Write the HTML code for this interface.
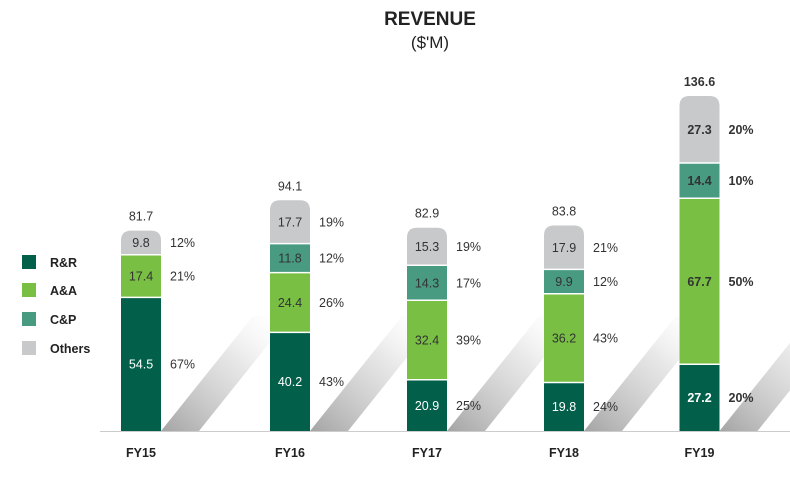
<!DOCTYPE html>
<html><head><meta charset="utf-8"><style>
body{margin:0;background:#fff;font-family:"Liberation Sans",sans-serif}
svg text{font-family:"Liberation Sans",sans-serif}
</style></head><body>
<svg id="c" width="790" height="478" viewBox="0 0 790 478">
<defs>
<linearGradient id="sh" x1="0" y1="1" x2="1" y2="0">
<stop offset="0" stop-color="#9a9a9a" stop-opacity="0.9"/>
<stop offset="0.6" stop-color="#d8d8d8" stop-opacity="0.6"/>
<stop offset="1" stop-color="#fff" stop-opacity="0"/>
</linearGradient>
</defs>
<text x="430" y="25" text-anchor="middle" font-size="19" font-weight="bold" fill="#222">REVENUE</text>
<text x="430" y="48" text-anchor="middle" font-size="17" fill="#222">($'M)</text>
<line x1="100" y1="431.5" x2="790" y2="431.5" stroke="#ccc" stroke-width="1"/>
<g id="marks"></g>
<g id="legend"></g>
</svg>
<script>
const categories=["FY15","FY16","FY17","FY18","FY19"];
const rr=[54.5,40.2,20.9,19.8,27.2];
const aa=[17.4,24.4,32.4,36.2,67.7];
const cp=[0,11.8,14.3,9.9,14.4];
const others=[9.8,17.7,15.3,17.9,27.3];
const totals=[81.7,94.1,82.9,83.8,136.6];
const pctRR=["67%","43%","25%","24%","20%"];
const pctAA=["21%","26%","39%","43%","50%"];
const pctCP=["","12%","17%","12%","10%"];
const pctOT=["12%","19%","19%","21%","20%"];
const seriesNames=["R&R","A&A","C&P","Others"];

const colors=["#02604a","#78bf44","#489a80","#c8c9cb"];
const xCenters=[141,290,427,564,699.5];
const barW=40, base=431, kpx=2.452;
const y=v=>base-v*kpx;
const NS="http://www.w3.org/2000/svg";
const g=document.getElementById('marks');
function mk(tag,attrs,parent){const e=document.createElementNS(NS,tag);for(const k in attrs)e.setAttribute(k,attrs[k]);(parent||g).appendChild(e);return e;}
const series=[rr,aa,cp,others], pcts=[pctRR,pctAA,pctCP,pctOT];
categories.forEach((cat,i)=>{
  const cx=xCenters[i], x0=cx-barW/2, bold=i===4;
  const sh=mk('polygon',{points:`${x0+barW},${base} ${x0+barW+38},${base} ${x0+barW+130},${base-115} ${x0+barW+92},${base-115}`,fill:'url(#sh)'});
  
  
  let cum=0;
  const lastIdx=3;
  series.forEach((s,j)=>{
    const v=s[i]; if(!v) return;
    const y1=y(cum), y2=y(cum+v);
    let el;
    if(j===lastIdx){
      const r=10,h=y1-y2;
      el=mk('path',{d:`M${x0},${y1} L${x0},${y2+r} Q${x0},${y2} ${x0+r},${y2} L${x0+barW-r},${y2} Q${x0+barW},${y2} ${x0+barW},${y2+r} L${x0+barW},${y1} Z`,fill:colors[j]});
    } else {
      el=mk('rect',{x:x0,y:y2,width:barW,height:y1-y2,fill:colors[j]});
    }
    
    
    if(cum>0){const ln=mk('line',{x1:x0,x2:x0+barW,y1:y1,y2:y1,stroke:'#fff','stroke-width':1.5});}
    const my=(y1+y2)/2+4.5;
    const t=mk('text',{x:cx,y:my,'text-anchor':'middle','font-size':12.5,fill:j===0?'#fff':'#333','font-weight':bold?'bold':'normal'});
    t.textContent=v.toFixed(1);
    
    
    const p=mk('text',{x:x0+barW+9,y:my,'font-size':12.5,fill:'#333','font-weight':bold?'bold':'normal'});
    p.textContent=pcts[j][i];
    
    
    cum+=v;
  });
  const tt=mk('text',{x:cx,y:y(cum)-10,'text-anchor':'middle','font-size':12.5,fill:'#333','font-weight':bold?'bold':'normal'});
  tt.textContent=totals[i].toFixed(1);
  
  
  const cl=mk('text',{x:cx,y:457,'text-anchor':'middle','font-size':12.5,'font-weight':'bold',fill:'#222'});
  cl.textContent=cat;
  
  
});
const lg=document.getElementById('legend');
const ly=[262,290,319,348];
seriesNames.forEach((n,j)=>{
  const r=mk('rect',{x:22,y:ly[j]-7,width:14,height:14,fill:colors[j]},lg);
  
  
  const t=mk('text',{x:50,y:ly[j]+5,'font-size':12.5,'font-weight':'bold',fill:'#222'},lg);
  t.textContent=n;
  
  
});
</script>
</body></html>
